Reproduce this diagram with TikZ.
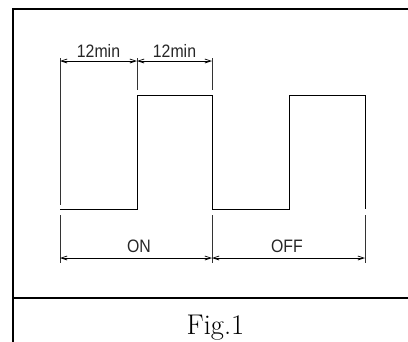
\documentclass[tikz,border=0pt]{standalone}
\usepackage{fontspec}
\newfontfamily\cadfont{Liberation Sans}
\usetikzlibrary{arrows.meta}
\newcommand{\cadtxt}[1]{\scalebox{0.88}[1]{\cadfont\fontsize{18}{18}\selectfont #1}}
\begin{document}
\begin{tikzpicture}[x=1pt,y=-1pt,
  frame/.style={line width=2pt},
  wave/.style={line width=0.95pt},
  ext/.style={line width=0.75pt, black!80},
  dim/.style={line width=0.75pt, {Straight Barb[length=6pt,width=4pt]}-{Straight Barb[length=6pt,width=4pt]}},
  lbl/.style={inner sep=0pt, anchor=base, text=black!85},
  figcap/.style={font=\fontsize{28.5}{30}\selectfont, inner sep=0pt, anchor=base}]
\useasboundingbox (0,0) rectangle (408,341);
% frame
\coordinate (fTL) at (13,9);
\coordinate (fTR) at (410,9);
\coordinate (fBL) at (13,345);
\coordinate (fML) at (13,298);
\coordinate (fMR) at (410,298);
\draw[frame, line cap=rect] (fTR) -- (fTL) -- (fBL);
\draw[frame] (fML) -- (fMR);
% waveform
\coordinate (w0) at (60,209);
\coordinate (w1) at (137,209);
\coordinate (w2) at (137,95);
\coordinate (w3) at (212,95);
\coordinate (w4) at (212,209);
\coordinate (w5) at (289,209);
\coordinate (w6) at (289,95);
\coordinate (w7) at (365,95);
\coordinate (w8) at (365,209);
\draw[wave] (w0) -- (w1) -- (w2) -- (w3) -- (w4) -- (w5) -- (w6) -- (w7) -- (w8);
% extension lines top
\coordinate (e1a) at (60,58);  \coordinate (e1b) at (60,205);
\coordinate (e2a) at (137,58); \coordinate (e2b) at (137,90);
\coordinate (e3a) at (212,58); \coordinate (e3b) at (212,90);
\draw[ext] (e1a) -- (e1b);
\draw[ext] (e2a) -- (e2b);
\draw[ext] (e3a) -- (e3b);
% extension lines bottom
\coordinate (b1a) at (60,215);  \coordinate (b1b) at (60,263);
\coordinate (b2a) at (212,215); \coordinate (b2b) at (212,263);
\coordinate (b3a) at (365,215); \coordinate (b3b) at (365,263);
\draw[ext] (b1a) -- (b1b);
\draw[ext] (b2a) -- (b2b);
\draw[ext] (b3a) -- (b3b);
% top dimensions
\coordinate (d1) at (60,61);
\coordinate (d2) at (137,61);
\coordinate (d3) at (212,61);
\draw[dim] (d1) -- (d2);
\draw[dim] (d2) -- (d3);
\node[lbl] (t1) at (98.5,57.5) {\cadtxt{12min}};
\node[lbl] (t2) at (174.5,57.5) {\cadtxt{12min}};
% bottom dimensions
\coordinate (g1) at (60,258);
\coordinate (g2) at (212,258);
\coordinate (g3) at (365,258);
\draw[dim] (g1) -- (g2);
\draw[dim] (g2) -- (g3);
\node[lbl] (on) at (139,252.5) {\cadtxt{ON}};
\node[lbl] (off) at (287,252.5) {\cadtxt{OFF}};
% caption
\node[figcap] (fig) at (215.5,334) {Fig.1};
\end{tikzpicture}
\end{document}
